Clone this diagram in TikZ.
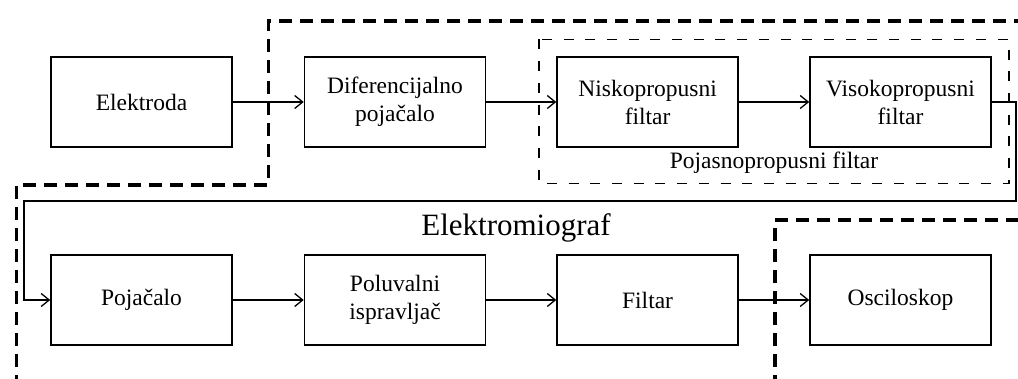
\documentclass[tikz,border=0pt]{standalone}
\usepackage{fontspec}
\setmainfont{Liberation Serif}
\newfontfamily\tnr{Liberation Serif}
\usetikzlibrary{arrows.meta}
\begin{document}
\begin{tikzpicture}[x=1pt,y=-1pt,
 blk/.style={draw, line width=1.6pt, minimum width=181pt, minimum height=90pt, inner sep=0pt, align=center, font=\tnr\fontsize{23.5}{28}\selectfont},
 conn/.style={line width=1.3pt, -{Straight Barb[length=8pt,width=13pt,line width=1.3pt]}},
 thickdash/.style={line width=3.5pt, dash pattern=on 13pt off 8pt},
 thindash/.style={line width=1.4pt, dash pattern=on 10pt off 11.7pt},
 lbl/.style={anchor=base, inner sep=0pt, font=\tnr\fontsize{23.5}{28}\selectfont}]
\useasboundingbox (0,0) rectangle (1018,379);
\clip (0,0) rectangle (1018,379);
% top row
\node[blk] (el) at (141.5,102) {Elektroda};
\node[blk] (dp) at (395,102) {Diferencijalno\\pojačalo};
\node[blk] (np) at (647.6,102) {Niskopropusni\\filtar};
\node[blk] (vp) at (900.5,102) {Visokopropusni\\filtar};
% bottom row
\node[blk] (pj) at (141.5,300) {Pojačalo};
\node[blk] (pi) at (395,300) {Poluvalni\\ispravljač};
\node[blk] (fi) at (647.6,300) {Filtar};
\node[blk] (os) at (900.5,300) {Osciloskop};
% labels
\node[lbl] (bp) at (774,169) {Pojasnopropusni filtar};
\node[anchor=base, inner sep=0pt, font=\tnr\fontsize{31}{36}\selectfont] (emg) at (516,236) {Elektromiograf};
% enclosures
\draw[thindash] (539,39.5) rectangle (1009,183.5);
\draw[thickdash] (1040,220) -- (775,220) -- (775,380.3) -- (16.5,380.3) -- (16.5,185) -- (268.5,185) -- (268.5,21) -- (1040,21);
% connectors
\coordinate (r1) at (1016,102);
\coordinate (r2) at (1016,201);
\coordinate (l1) at (24,201);
\draw[conn] (el.east) -- (dp.west);
\draw[conn] (dp.east) -- (np.west);
\draw[conn] (np.east) -- (vp.west);
\draw[conn] (vp.east) -- (r1) -- (r2) -- (l1) |- (pj.west);
\draw[conn] (pj.east) -- (pi.west);
\draw[conn] (pi.east) -- (fi.west);
\draw[conn] (fi.east) -- (os.west);
\end{tikzpicture}
\end{document}
